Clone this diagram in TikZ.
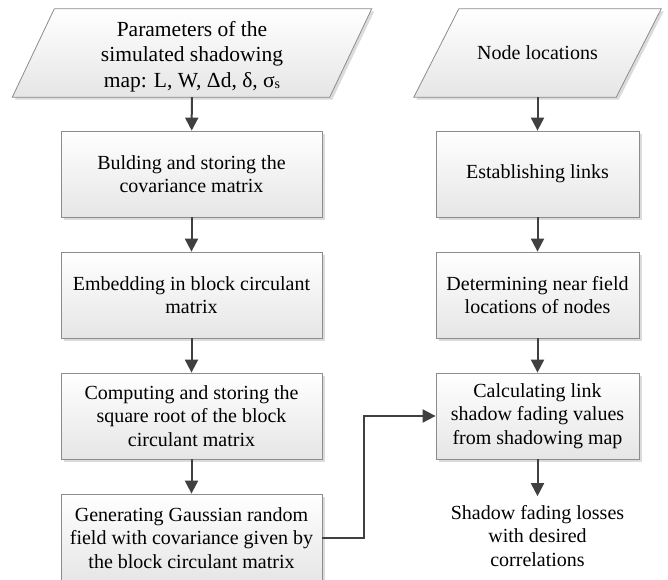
\documentclass[tikz,border=0pt]{standalone}
\usepackage{fontspec}
\setmainfont{Liberation Serif}
\usetikzlibrary{arrows.meta,shadows,backgrounds,calc}
\begin{document}
\begin{tikzpicture}[x=1pt,y=-1pt,
  shadowed/.style={drop shadow={shadow xshift=2.5pt,shadow yshift=-2.5pt,fill=black!14,opacity=1}},
  boxstyle/.style={draw=black!45, line width=0.8pt, top color=white, bottom color=black!10,
    shadowed, minimum height=86pt, align=center, inner sep=0pt,
    font=\fontsize{20}{23.5}\selectfont},
  lbox/.style={boxstyle, minimum width=261pt},
  rbox/.style={boxstyle, minimum width=203pt},
  pshape/.style={draw=black!45, line width=0.8pt, top color=white, bottom color=black!10, shadowed},
  ptext/.style={minimum height=88pt, align=center, inner sep=0pt},
  arr/.style={draw=black!75, line width=2pt, -{Triangle[length=13pt,width=13pt]}}
]
\useasboundingbox (0,0) rectangle (668,579);

% left column
\node[ptext, minimum width=317pt, font=\fontsize{21.5}{25.5}\selectfont] (p1) at (192,53)
  {\rule{0pt}{22pt}Parameters of the\\simulated shadowing\\map: L, W, Δd, δ, σ\raisebox{-1pt}{\fontsize{14}{14}\selectfont s}};
\node[lbox] (b1) at (191.5,174) {Bulding and storing the\\covariance matrix};
\node[lbox] (b2) at (191.5,295) {Embedding in block circulant\\matrix};
\node[lbox] (b3) at (191.5,416) {Computing and storing the\\square root of the block\\circulant matrix};
\node[lbox, minimum height=88pt] (b4) at (191.5,538) {Generating Gaussian random\\field with covariance given by\\the block circulant matrix};

% right column
\node[ptext, minimum width=202pt, font=\fontsize{20}{23.5}\selectfont] (p2) at (537.5,53) {Node locations};
\node[rbox] (r1) at (537.5,174) {Establishing links};
\node[rbox] (r2) at (537.5,295) {Determining near field\\locations of nodes};
\node[rbox] (r3) at (537.5,416) {Calculating link\\shadow fading values\\from shadowing map};
\node[align=center, inner sep=9pt, font=\fontsize{20}{23.5}\selectfont] (fin) at (537.5,536)
  {Shadow fading losses\\with desired\\correlations};

\begin{pgfonlayer}{background}
\fill[white] (0,0) rectangle (668,579);
\path[pshape] ($(p1.south west)+(-21,0)$) -- ($(p1.south east)+(-21,0)$)
  -- ($(p1.north east)+(21,0)$) -- ($(p1.north west)+(21,0)$) -- cycle;
\path[pshape] ($(p2.south west)+(-22.5,0)$) -- ($(p2.south east)+(-22.5,0)$)
  -- ($(p2.north east)+(22.5,0)$) -- ($(p2.north west)+(22.5,0)$) -- cycle;
\end{pgfonlayer}

% connectors
\draw[arr] (p1) -- (b1);
\draw[arr] (b1) -- (b2);
\draw[arr] (b2) -- (b3);
\draw[arr] (b3) -- (b4);
\draw[arr] (p2) -- (r1);
\draw[arr] (r1) -- (r2);
\draw[arr] (r2) -- (r3);
\draw[arr] (r3) -- (fin);
\coordinate (bend) at (364,416);
\draw[arr] (b4.east) -| (bend) -- (r3.west);
\end{tikzpicture}
\end{document}
